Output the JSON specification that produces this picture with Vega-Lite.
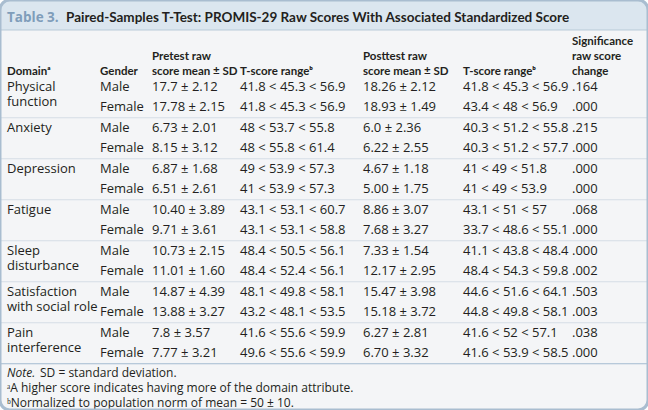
{
  "$schema": "https://vega.github.io/schema/vega-lite/v6.json",
  "width": 648,
  "height": 410,
  "padding": 0,
  "autosize": {"type": "none"},
  "background": "white",
  "config": {"view": {"stroke": null}, "font": "Open Sans"},
  "datasets": {
    "title": [{"r": -3, "c": 0, "label": "Table 3.", "head": "Paired-Samples T-Test: PROMIS-29 Raw Scores With Associated Standardized Score"}],
    "head": [
      {"r": -1, "c": 0, "k": 0, "t": "Domainᵃ"},
      {"r": -1, "c": 1, "k": 0, "t": "Gender"},
      {"r": -1, "c": 2, "k": 1, "t": "Pretest raw"},
      {"r": -1, "c": 2, "k": 0, "t": "score mean ± SD"},
      {"r": -1, "c": 3, "k": 0, "t": "T-score rangeᵇ"},
      {"r": -1, "c": 4, "k": 1, "t": "Posttest raw"},
      {"r": -1, "c": 4, "k": 0, "t": "score mean ± SD"},
      {"r": -1, "c": 5, "k": 0, "t": "T-score rangeᵇ"},
      {"r": -1, "c": 6, "k": 2, "t": "Significance"},
      {"r": -1, "c": 6, "k": 1, "t": "raw score"},
      {"r": -1, "c": 6, "k": 0, "t": "change"}
    ],
    "cells": [
      {"r": 0, "c": 0, "k": 0, "t": "Physical"}, {"r": 0, "c": 0, "k": 1, "t": "function"}, {"r": 0, "c": 1, "k": 0, "t": "Male"}, {"r": 0, "c": 2, "k": 0, "t": "17.7 ± 2.12"}, {"r": 0, "c": 3, "k": 0, "t": "41.8 < 45.3 < 56.9"}, {"r": 0, "c": 4, "k": 0, "t": "18.26 ± 2.12"}, {"r": 0, "c": 5, "k": 0, "t": "41.8 < 45.3 < 56.9"}, {"r": 0, "c": 6, "k": 0, "t": ".164"},
      {"r": 1, "c": 1, "k": 0, "t": "Female"}, {"r": 1, "c": 2, "k": 0, "t": "17.78 ± 2.15"}, {"r": 1, "c": 3, "k": 0, "t": "41.8 < 45.3 < 56.9"}, {"r": 1, "c": 4, "k": 0, "t": "18.93 ± 1.49"}, {"r": 1, "c": 5, "k": 0, "t": "43.4 < 48 < 56.9"}, {"r": 1, "c": 6, "k": 0, "t": ".000"},
      {"r": 2, "c": 0, "k": 0, "t": "Anxiety"}, {"r": 2, "c": 1, "k": 0, "t": "Male"}, {"r": 2, "c": 2, "k": 0, "t": "6.73 ± 2.01"}, {"r": 2, "c": 3, "k": 0, "t": "48 < 53.7 < 55.8"}, {"r": 2, "c": 4, "k": 0, "t": "6.0 ± 2.36"}, {"r": 2, "c": 5, "k": 0, "t": "40.3 < 51.2 < 55.8"}, {"r": 2, "c": 6, "k": 0, "t": ".215"},
      {"r": 3, "c": 1, "k": 0, "t": "Female"}, {"r": 3, "c": 2, "k": 0, "t": "8.15 ± 3.12"}, {"r": 3, "c": 3, "k": 0, "t": "48 < 55.8 < 61.4"}, {"r": 3, "c": 4, "k": 0, "t": "6.22 ± 2.55"}, {"r": 3, "c": 5, "k": 0, "t": "40.3 < 51.2 < 57.7"}, {"r": 3, "c": 6, "k": 0, "t": ".000"},
      {"r": 4, "c": 0, "k": 0, "t": "Depression"}, {"r": 4, "c": 1, "k": 0, "t": "Male"}, {"r": 4, "c": 2, "k": 0, "t": "6.87 ± 1.68"}, {"r": 4, "c": 3, "k": 0, "t": "49 < 53.9 < 57.3"}, {"r": 4, "c": 4, "k": 0, "t": "4.67 ± 1.18"}, {"r": 4, "c": 5, "k": 0, "t": "41 < 49 < 51.8"}, {"r": 4, "c": 6, "k": 0, "t": ".000"},
      {"r": 5, "c": 1, "k": 0, "t": "Female"}, {"r": 5, "c": 2, "k": 0, "t": "6.51 ± 2.61"}, {"r": 5, "c": 3, "k": 0, "t": "41 < 53.9 < 57.3"}, {"r": 5, "c": 4, "k": 0, "t": "5.00 ± 1.75"}, {"r": 5, "c": 5, "k": 0, "t": "41 < 49 < 53.9"}, {"r": 5, "c": 6, "k": 0, "t": ".000"},
      {"r": 6, "c": 0, "k": 0, "t": "Fatigue"}, {"r": 6, "c": 1, "k": 0, "t": "Male"}, {"r": 6, "c": 2, "k": 0, "t": "10.40 ± 3.89"}, {"r": 6, "c": 3, "k": 0, "t": "43.1 < 53.1 < 60.7"}, {"r": 6, "c": 4, "k": 0, "t": "8.86 ± 3.07"}, {"r": 6, "c": 5, "k": 0, "t": "43.1 < 51 < 57"}, {"r": 6, "c": 6, "k": 0, "t": ".068"},
      {"r": 7, "c": 1, "k": 0, "t": "Female"}, {"r": 7, "c": 2, "k": 0, "t": "9.71 ± 3.61"}, {"r": 7, "c": 3, "k": 0, "t": "43.1 < 53.1 < 58.8"}, {"r": 7, "c": 4, "k": 0, "t": "7.68 ± 3.27"}, {"r": 7, "c": 5, "k": 0, "t": "33.7 < 48.6 < 55.1"}, {"r": 7, "c": 6, "k": 0, "t": ".000"},
      {"r": 8, "c": 0, "k": 0, "t": "Sleep"}, {"r": 8, "c": 0, "k": 1, "t": "disturbance"}, {"r": 8, "c": 1, "k": 0, "t": "Male"}, {"r": 8, "c": 2, "k": 0, "t": "10.73 ± 2.15"}, {"r": 8, "c": 3, "k": 0, "t": "48.4 < 50.5 < 56.1"}, {"r": 8, "c": 4, "k": 0, "t": "7.33 ± 1.54"}, {"r": 8, "c": 5, "k": 0, "t": "41.1 < 43.8 < 48.4"}, {"r": 8, "c": 6, "k": 0, "t": ".000"},
      {"r": 9, "c": 1, "k": 0, "t": "Female"}, {"r": 9, "c": 2, "k": 0, "t": "11.01 ± 1.60"}, {"r": 9, "c": 3, "k": 0, "t": "48.4 < 52.4 < 56.1"}, {"r": 9, "c": 4, "k": 0, "t": "12.17 ± 2.95"}, {"r": 9, "c": 5, "k": 0, "t": "48.4 < 54.3 < 59.8"}, {"r": 9, "c": 6, "k": 0, "t": ".002"},
      {"r": 10, "c": 0, "k": 0, "t": "Satisfaction"}, {"r": 10, "c": 0, "k": 1, "t": "with social role"}, {"r": 10, "c": 1, "k": 0, "t": "Male"}, {"r": 10, "c": 2, "k": 0, "t": "14.87 ± 4.39"}, {"r": 10, "c": 3, "k": 0, "t": "48.1 < 49.8 < 58.1"}, {"r": 10, "c": 4, "k": 0, "t": "15.47 ± 3.98"}, {"r": 10, "c": 5, "k": 0, "t": "44.6 < 51.6 < 64.1"}, {"r": 10, "c": 6, "k": 0, "t": ".503"},
      {"r": 11, "c": 1, "k": 0, "t": "Female"}, {"r": 11, "c": 2, "k": 0, "t": "13.88 ± 3.27"}, {"r": 11, "c": 3, "k": 0, "t": "43.2 < 48.1 < 53.5"}, {"r": 11, "c": 4, "k": 0, "t": "15.18 ± 3.72"}, {"r": 11, "c": 5, "k": 0, "t": "44.8 < 49.8 < 58.1"}, {"r": 11, "c": 6, "k": 0, "t": ".003"},
      {"r": 12, "c": 0, "k": 0, "t": "Pain"}, {"r": 12, "c": 0, "k": 1, "t": "interference"}, {"r": 12, "c": 1, "k": 0, "t": "Male"}, {"r": 12, "c": 2, "k": 0, "t": "7.8 ± 3.57"}, {"r": 12, "c": 3, "k": 0, "t": "41.6 < 55.6 < 59.9"}, {"r": 12, "c": 4, "k": 0, "t": "6.27 ± 2.81"}, {"r": 12, "c": 5, "k": 0, "t": "41.6 < 52 < 57.1"}, {"r": 12, "c": 6, "k": 0, "t": ".038"},
      {"r": 13, "c": 1, "k": 0, "t": "Female"}, {"r": 13, "c": 2, "k": 0, "t": "7.77 ± 3.21"}, {"r": 13, "c": 3, "k": 0, "t": "49.6 < 55.6 < 59.9"}, {"r": 13, "c": 4, "k": 0, "t": "6.70 ± 3.32"}, {"r": 13, "c": 5, "k": 0, "t": "41.6 < 53.9 < 58.5"}, {"r": 13, "c": 6, "k": 0, "t": ".000"}
    ],
    "notes": [
      {"r": 14, "c": 0, "line": 0, "lead": "Note.", "t": "SD = standard deviation."},
      {"r": 14, "c": 0, "line": 1, "lead": "", "t": "ᵃA higher score indicates having more of the domain attribute."},
      {"r": 14, "c": 0, "line": 2, "lead": "", "t": "ᵇNormalized to population norm of mean = 50 ± 10."}
    ]
  },
  "layer": [
    {
      "data": {"name": "title"},
      "mark": {"type": "rect", "fill": "#f4f5f7", "cornerRadius": 10},
      "encoding": {
        "y": {"datum": -4.2439, "type": "quantitative", "scale": {"domain": [-4.2439, 15.7561], "reverse": true, "nice": false, "zero": false}, "axis": null},
        "y2": {"datum": 15.7561}
      }
    },
    {
      "data": {"name": "title"},
      "mark": {"type": "rect", "fill": "#dbe6ef", "cornerRadiusTopLeft": 10, "cornerRadiusTopRight": 10},
      "encoding": {
        "y": {"datum": -4.2439, "type": "quantitative"},
        "y2": {"datum": -2.7805}
      }
    },
    {
      "data": {"name": "title"},
      "mark": {"type": "rule", "color": "#b9cad9", "strokeWidth": 1},
      "encoding": {"y": {"datum": -2.7805, "type": "quantitative"}}
    },
    {
      "data": {"name": "cells"},
      "transform": [{"filter": "datum.t == 'Female' && datum.r < 13"}],
      "mark": {"type": "rule", "color": "#d5dde6", "strokeWidth": 1},
      "encoding": {"y": {"field": "r", "type": "quantitative"}, "yOffset": {"value": 10.25}}
    },
    {
      "data": {"name": "cells"},
      "transform": [{"filter": "datum.t == 'Female' && datum.r == 13"}],
      "mark": {"type": "rule", "color": "#a3bad0", "strokeWidth": 1.2},
      "encoding": {"y": {"field": "r", "type": "quantitative"}, "yOffset": {"value": 10.25}}
    },
    {
      "data": {"name": "title"},
      "mark": {"type": "text", "align": "left", "baseline": "middle", "fontSize": 13.5, "fontWeight": "bold", "color": "#7f9dba", "dy": -7.5},
      "encoding": {
        "x": {"field": "c", "type": "quantitative", "scale": {"domain": [0, 1, 2, 3, 4, 5, 6], "range": [7, 100, 152, 240, 363, 463, 572], "nice": false, "zero": false}, "axis": null},
        "y": {"field": "r", "type": "quantitative"},
        "text": {"field": "label"}
      }
    },
    {
      "data": {"name": "title"},
      "mark": {"type": "text", "align": "left", "baseline": "middle", "font": "Lato", "fontSize": 13.5, "fontWeight": "bold", "color": "#231f20", "dy": -7.5, "dx": 59},
      "encoding": {
        "x": {"field": "c", "type": "quantitative"},
        "y": {"field": "r", "type": "quantitative"},
        "text": {"field": "head"}
      }
    },
    {
      "data": {"name": "head"},
      "transform": [{"filter": "datum.k == 0"}],
      "mark": {"type": "text", "align": "left", "baseline": "middle", "font": "Lato", "fontSize": 11.5, "fontWeight": "bold", "color": "#231f20", "dy": 5.5},
      "encoding": {
        "x": {"field": "c", "type": "quantitative"},
        "y": {"field": "r", "type": "quantitative"},
        "text": {"field": "t"}
      }
    },
    {
      "data": {"name": "head"},
      "transform": [{"filter": "datum.k == 1"}],
      "mark": {"type": "text", "align": "left", "baseline": "middle", "font": "Lato", "fontSize": 11.5, "fontWeight": "bold", "color": "#231f20", "dy": -9.5},
      "encoding": {
        "x": {"field": "c", "type": "quantitative"},
        "y": {"field": "r", "type": "quantitative"},
        "text": {"field": "t"}
      }
    },
    {
      "data": {"name": "head"},
      "transform": [{"filter": "datum.k == 2"}],
      "mark": {"type": "text", "align": "left", "baseline": "middle", "font": "Lato", "fontSize": 11.5, "fontWeight": "bold", "color": "#231f20", "dy": -24.5},
      "encoding": {
        "x": {"field": "c", "type": "quantitative"},
        "y": {"field": "r", "type": "quantitative"},
        "text": {"field": "t"}
      }
    },
    {
      "data": {"name": "cells"},
      "transform": [{"filter": "datum.k == 0"}],
      "mark": {"type": "text", "align": "left", "baseline": "middle", "fontSize": 13, "color": "#231f20"},
      "encoding": {
        "x": {"field": "c", "type": "quantitative"},
        "y": {"field": "r", "type": "quantitative"},
        "text": {"field": "t"}
      }
    },
    {
      "data": {"name": "cells"},
      "transform": [{"filter": "datum.k == 1"}],
      "mark": {"type": "text", "align": "left", "baseline": "middle", "fontSize": 13, "color": "#231f20", "dy": 15.5},
      "encoding": {
        "x": {"field": "c", "type": "quantitative"},
        "y": {"field": "r", "type": "quantitative"},
        "text": {"field": "t"}
      }
    },
    {
      "data": {"name": "notes"},
      "transform": [{"filter": "datum.line == 0"}],
      "mark": {"type": "text", "align": "left", "baseline": "middle", "fontSize": 12, "fontStyle": "italic", "color": "#231f20", "dy": -0.5},
      "encoding": {
        "x": {"field": "c", "type": "quantitative"},
        "y": {"field": "r", "type": "quantitative"},
        "text": {"field": "lead"}
      }
    },
    {
      "data": {"name": "notes"},
      "transform": [{"filter": "datum.line == 0"}],
      "mark": {"type": "text", "align": "left", "baseline": "middle", "fontSize": 12, "color": "#231f20", "dy": -0.5, "dx": 33},
      "encoding": {
        "x": {"field": "c", "type": "quantitative"},
        "y": {"field": "r", "type": "quantitative"},
        "text": {"field": "t"}
      }
    },
    {
      "data": {"name": "notes"},
      "transform": [{"filter": "datum.line == 1"}],
      "mark": {"type": "text", "align": "left", "baseline": "middle", "fontSize": 12, "color": "#231f20", "dy": 14.25},
      "encoding": {
        "x": {"field": "c", "type": "quantitative"},
        "y": {"field": "r", "type": "quantitative"},
        "text": {"field": "t"}
      }
    },
    {
      "data": {"name": "notes"},
      "transform": [{"filter": "datum.line == 2"}],
      "mark": {"type": "text", "align": "left", "baseline": "middle", "fontSize": 12, "color": "#231f20", "dy": 29},
      "encoding": {
        "x": {"field": "c", "type": "quantitative"},
        "y": {"field": "r", "type": "quantitative"},
        "text": {"field": "t"}
      }
    },
    {
      "data": {"name": "title"},
      "mark": {"type": "rect", "fillOpacity": 0, "fill": "white", "stroke": "#a9bdd0", "strokeWidth": 3, "cornerRadius": 10},
      "encoding": {
        "y": {"datum": -4.2439, "type": "quantitative"},
        "y2": {"datum": 15.7561}
      }
    }
  ]
}
